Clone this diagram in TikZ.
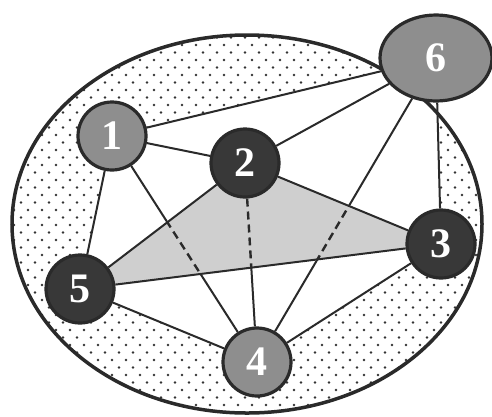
\documentclass[tikz,border=0pt]{standalone}
\usepackage{fontspec}
\newfontfamily\nodefont{Liberation Serif}
\usetikzlibrary{shapes.geometric}
\pgfdeclarelayer{bg}
\pgfsetlayers{bg,main}
\definecolor{darkfill}{HTML}{383838}
\definecolor{lightfill}{HTML}{8E8E8E}
\definecolor{bord}{HTML}{2A2A2A}
\definecolor{dotc}{HTML}{333333}
\definecolor{trif}{HTML}{CFCFCF}
\definecolor{edgec}{HTML}{2A2A2A}
\begin{document}
\begin{tikzpicture}[x=1pt,y=-1pt,
  vtx/.style={circle,minimum size=68pt,inner sep=0pt,draw=bord,line width=3.2pt,text=white,font=\nodefont\bfseries\fontsize{42}{42}\selectfont},
  darknode/.style={vtx,fill=darkfill},
  lightnode/.style={vtx,fill=lightfill},
  ellnode/.style={ellipse,minimum width=112pt,minimum height=86pt,inner sep=0pt,draw=bord,line width=3.2pt,fill=lightfill,text=white,font=\nodefont\bfseries\fontsize{42}{42}\selectfont},
  edge/.style={draw=edgec,line width=2pt},
  dashedge/.style={draw=edgec,line width=2.4pt,dash pattern=on 8pt off 5pt},
  tri/.style={fill=trif}]
\useasboundingbox (0,0) rectangle (492,416);
\node[lightnode] (n1) at (112,136) {1};
\node[darknode] (n2) at (245,163) {2};
\node[darknode] (n3) at (441,244) {3};
\node[lightnode] (n4) at (257,362) {4};
\node[darknode] (n5) at (80,289) {5};
\node[ellnode] (n6) at (436,58) {6};
\begin{pgfonlayer}{bg}
\begin{scope}
\clip (247,224) ellipse [x radius=235, y radius=189];
\fill[white] (0,0) rectangle (492,416);
\foreach \j in {0,...,56} \foreach \i in {0,...,36} \fill[dotc] ({\i*14+mod(\j,2)*7},{\j*7.5}) circle (1.4pt);
\fill[white] (n1.center) -- (n6.center) -- (n3.center) -- (n4.center) -- (n5.center) -- cycle;
\end{scope}
\fill[tri] (n2.center) -- (n3.center) -- (n5.center) -- cycle;
\draw[edge] (n1) -- (n4);
\draw[edge] (n2) -- (n4);
\draw[edge] (n6) -- (n4);
\fill[tri] (n2.center) -- (n3.center) -- (n5.center) -- cycle;
\begin{scope}
\clip (n2.center) -- (n3.center) -- (n5.center) -- cycle;
\draw[dashedge] (n1) -- (n4);
\draw[dashedge] (n2) -- (n4);
\draw[dashedge] (n6) -- (n4);
\end{scope}
\draw[edge] (n1) -- (n6);
\draw[edge] (n1) -- (n2);
\draw[edge] (n2) -- (n6);
\draw[edge] (n6) -- (n3);
\draw[edge] (n1) -- (n5);
\draw[edge] (n2) -- (n5);
\draw[edge] (n2) -- (n3);
\draw[edge] (n5) -- (n3);
\draw[edge] (n5) -- (n4);
\draw[edge] (n4) -- (n3);
\draw[draw=bord,line width=3.5pt] (247,224) ellipse [x radius=235, y radius=189];
\end{pgfonlayer}
\end{tikzpicture}
\end{document}
